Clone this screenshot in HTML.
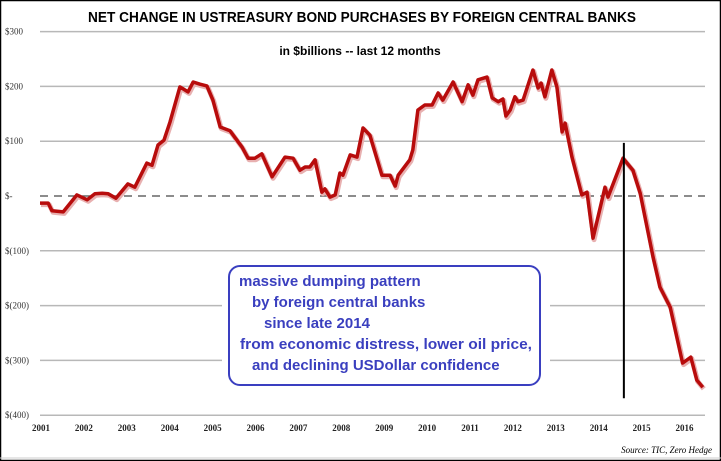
<!DOCTYPE html>
<html><head><meta charset="utf-8"><style>
body{margin:0;background:#fff}
svg{display:block}
</style></head><body>
<svg width="721" height="461" viewBox="0 0 721 461" font-family="Liberation Sans, sans-serif">
<rect x="0.5" y="0.5" width="720" height="460" fill="#fff" stroke="#000" stroke-width="1.5"/>
<text x="362" y="22" text-anchor="middle" font-weight="bold" font-size="14.5" textLength="548" lengthAdjust="spacingAndGlyphs">NET CHANGE IN USTREASURY BOND PURCHASES BY FOREIGN CENTRAL BANKS</text>
<text x="360" y="55" text-anchor="middle" font-weight="bold" font-size="12">in $billions -- last 12 months</text>
<g id="grid"></g>
<g id="xlabels"></g>
<rect x="222" y="258" width="328" height="134" fill="#fff"/>
<g id="series"></g>
<g id="annot"></g>
<rect x="229" y="266" width="311" height="119" rx="11" fill="#fff" stroke="#3a3fc0" stroke-width="2"/>
<g font-weight="bold" font-size="15" fill="#3a3fbf">
<text x="239" y="286">massive dumping pattern</text>
<text x="252" y="307">by foreign central banks</text>
<text x="264" y="328">since late 2014</text>
<text x="240" y="349" textLength="292" lengthAdjust="spacingAndGlyphs">from economic distress, lower oil price,</text>
<text x="252" y="370">and declining USDollar confidence</text>
</g>
<line x1="0" y1="458" x2="721" y2="458" stroke="#ccc"/>
<text x="712" y="453" text-anchor="end" font-family="Liberation Serif, serif" font-style="italic" font-size="9">Source: TIC, Zero Hedge</text>
</svg>
<script>
const yTicks=[300,200,100,0,-100,-200,-300,-400];
const yTickLabels=["$300","$200","$100","$-","$(100)","$(200)","$(300)","$(400)"];
const years=[2001,2002,2003,2004,2005,2006,2007,2008,2009,2010,2011,2012,2013,2014,2015,2016];
const dates=[2001.00,2001.19,2001.28,2001.54,2001.86,2002.10,2002.28,2002.45,2002.59,2002.77,2003.05,2003.21,2003.49,2003.61,2003.75,2003.89,2004.03,2004.26,2004.45,2004.57,2004.73,2004.89,2005.03,2005.20,2005.43,2005.71,2005.85,2006.01,2006.17,2006.41,2006.71,2006.90,2007.06,2007.18,2007.29,2007.41,2007.57,2007.64,2007.76,2007.88,2007.99,2008.06,2008.23,2008.39,2008.53,2008.69,2008.81,2008.97,2009.16,2009.28,2009.35,2009.62,2009.69,2009.81,2009.97,2010.14,2010.28,2010.39,2010.63,2010.84,2010.98,2011.09,2011.21,2011.42,2011.54,2011.68,2011.79,2011.86,2011.96,2012.07,2012.14,2012.26,2012.49,2012.61,2012.68,2012.77,2012.93,2013.05,2013.17,2013.24,2013.40,2013.63,2013.75,2013.89,2014.17,2014.24,2014.59,2014.82,2014.99,2015.29,2015.45,2015.69,2015.98,2016.17,2016.31,2016.45];
const values=[-13,-13,-27,-29,2,-7,4,5,4,-4,22,16,60,56,93,102,135,199,190,208,204,201,175,126,119,89,69,69,77,35,71,69,47,53,53,66,7,13,-2,2,42,38,75,71,124,111,80,38,38,18,38,66,84,157,166,166,188,175,208,172,203,184,212,217,179,172,177,146,157,181,172,175,230,197,206,181,230,199,117,133,71,2,7,-77,16,-2,69,47,5,-111,-166,-203,-305,-294,-336,-349];
const markerDate=2014.61, markerTop=97, markerBottom=-369;
const NS="http://www.w3.org/2000/svg";
const X0=40,X1=705,xPerYear=42.9;
function xs(d){return X0+(d-2001)*xPerYear;}
function ys(v){return 196-v*0.548;}
function mk(t,a,p){const e=document.createElementNS(NS,t);for(const k in a)e.setAttribute(k,a[k]);p.appendChild(e);return e;}
const grid=document.getElementById('grid');
yTicks.forEach((v,i)=>{
  const l=mk('line',{x1:X0,x2:X1,y1:ys(v),y2:ys(v),stroke:v===0?'#666':'#b8b8b8','stroke-width':v===0?1.6:1.5,'stroke-dasharray':v===0?'8,6':'none'},grid);
  
  
  const t=mk('text',{x:5,y:ys(v)+3,'font-size':9,'font-family':'Liberation Serif, serif',fill:'#333'},grid);
  t.textContent=yTickLabels[i];
  
  
});
const xl=document.getElementById('xlabels');
years.forEach(y=>{
  const t=mk('text',{x:xs(y)+1,y:431,'font-size':9,'font-weight':'bold','font-family':'Liberation Serif, serif','text-anchor':'middle',fill:'#222'},xl);
  t.textContent=String(y);
  
  
});
const s=document.getElementById('series');
const pts=dates.map((d,i)=>xs(d).toFixed(1)+','+ys(values[i]).toFixed(1)).join(' ');
const sh=mk('polyline',{points:pts,fill:'none',stroke:'#e8b0b0','stroke-width':5,'stroke-linejoin':'round',transform:'translate(1,1.5)'},s);


const pl=mk('polyline',{points:pts,fill:'none',stroke:'#b80c0c','stroke-width':3.5,'stroke-linejoin':'round'},s);


const an=document.getElementById('annot');
const ml=mk('line',{x1:xs(markerDate),x2:xs(markerDate),y1:ys(markerTop),y2:ys(markerBottom),stroke:'#000','stroke-width':2},an);


</script>
</body></html>
